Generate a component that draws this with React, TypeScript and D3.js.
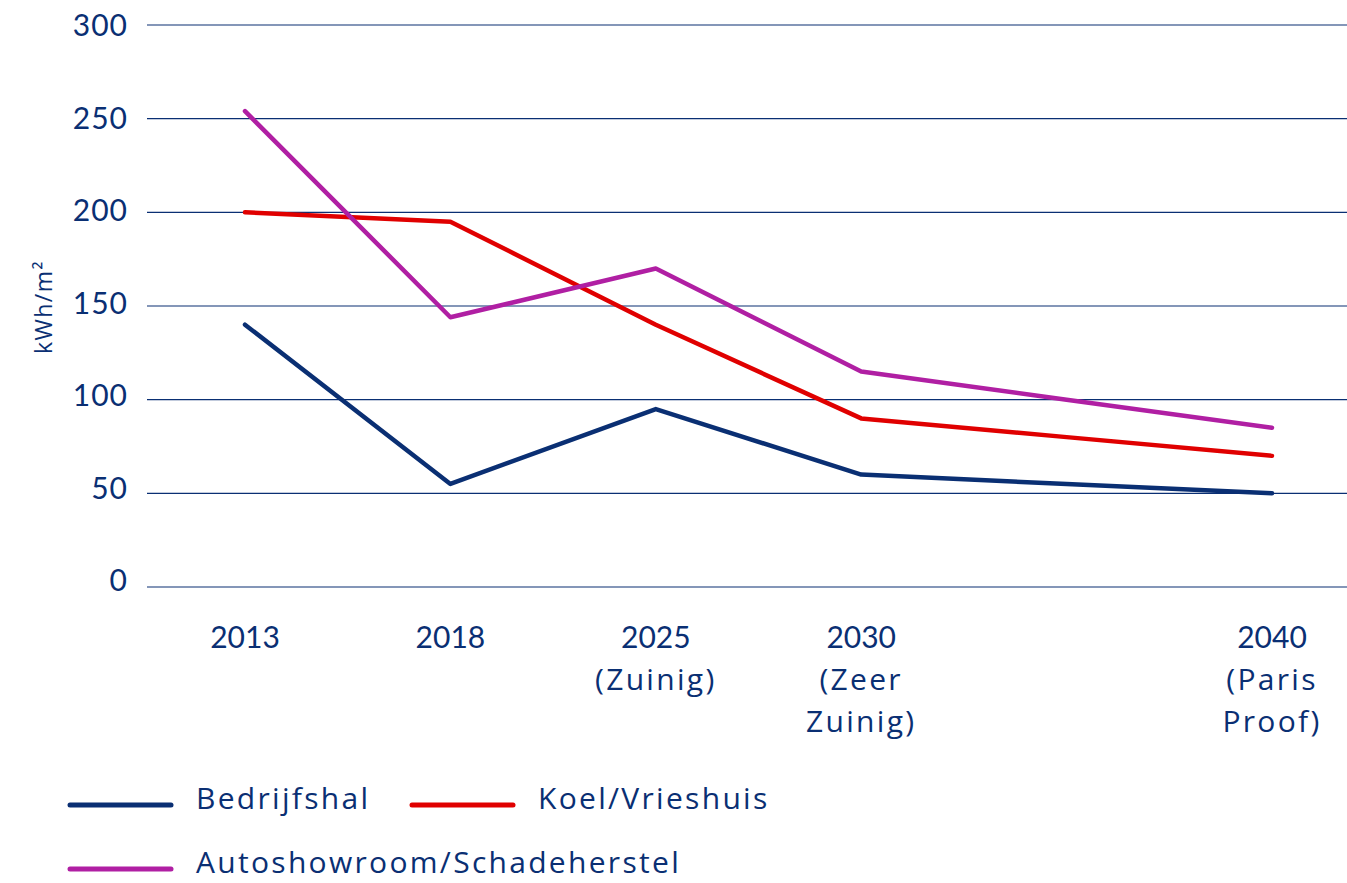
import React from "react";
import * as d3 from "d3";

const categories: string[][] = [
  ["2013"],
  ["2018"],
  ["2025", "(Zuinig)"],
  ["2030", "(Zeer", "Zuinig)"],
  [],
  ["2040", "(Paris", "Proof)"],
];
const bedrijfshal = [140, 55, 95, 60, 55, 50];
const koel = [200, 195, 140, 90, 80, 70];
const auto = [254, 144, 170, 115, 100, 85];
const yTicks = [0, 50, 100, 150, 200, 250, 300];
const seriesNames = ["Bedrijfshal", "Koel/Vrieshuis", "Autoshowroom/Schadeherstel"];

const NAVY = "#0a2f73";
const RED = "#e00000";
const MAGENTA = "#b01fa3";
const NUMFONT = "Lato, sans-serif";
const TXTFONT = "'Open Sans', sans-serif";

const isNum = (s: string) => /^\d+$/.test(s);

export default function App() {
  const W = 1347, H = 883;
  const x = d3.scalePoint<number>().domain(categories.map((_, i) => i)).range([245, 1272]);
  const y = d3.scaleLinear().domain([0, 300]).range([587, 25]);
  const yLabel = d3.scaleLinear().domain([0, 300]).range([580, 25]);
  const line = d3.line<number>().x((_, i) => x(i)!).y((d) => y(d));
  const series = [
    { name: seriesNames[0], data: bedrijfshal, color: NAVY },
    { name: seriesNames[1], data: koel, color: RED },
    { name: seriesNames[2], data: auto, color: MAGENTA },
  ];
  const legendPos = [
    { x: 70, y: 805 },
    { x: 412, y: 805 },
    { x: 70, y: 869 },
  ];
  return (
    <svg width={W} height={H} style={{ position: "absolute", left: 0, top: 0, background: "#fff" }}>
      {yTicks.map((t) => (
        <g key={t}>
          <line x1={147} x2={1347} y1={y(t)} y2={y(t)} stroke={NAVY} strokeWidth={1.2} />
          <text x={128} y={yLabel(t) + 11} textAnchor="end" fontSize={30} fill={NAVY} letterSpacing={1} fontFamily={NUMFONT}>
            {t}
          </text>
        </g>
      ))}
      <text transform="translate(52,307) rotate(-90)" textAnchor="middle" fontSize={23} fill={NAVY} letterSpacing={1.5} fontFamily={TXTFONT}>
        kWh/m²
      </text>
      {categories.map((lines, i) =>
        lines.map((l, j) => (
          <text key={i + "-" + j} x={x(i)!} y={648 + j * 42} textAnchor="middle" fontSize={30} fill={NAVY} letterSpacing={isNum(l) ? 0 : 2.3} fontFamily={isNum(l) ? NUMFONT : TXTFONT}>
            {l}
          </text>
        ))
      )}
      {series.map((s) => (
        <path key={s.name} d={line(s.data)!} fill="none" stroke={s.color} strokeWidth={4.5} strokeLinecap="round" strokeLinejoin="round" />
      ))}
      {series.map((s, i) => (
        <g key={"lg" + i}>
          <line x1={legendPos[i].x} x2={legendPos[i].x + 101} y1={legendPos[i].y} y2={legendPos[i].y} stroke={s.color} strokeWidth={5} strokeLinecap="round" />
          <text x={legendPos[i].x + 126} y={legendPos[i].y + 4} fontSize={30} fill={NAVY} letterSpacing={2.3} fontFamily={TXTFONT}>
            {s.name}
          </text>
        </g>
      ))}
    </svg>
  );
}
